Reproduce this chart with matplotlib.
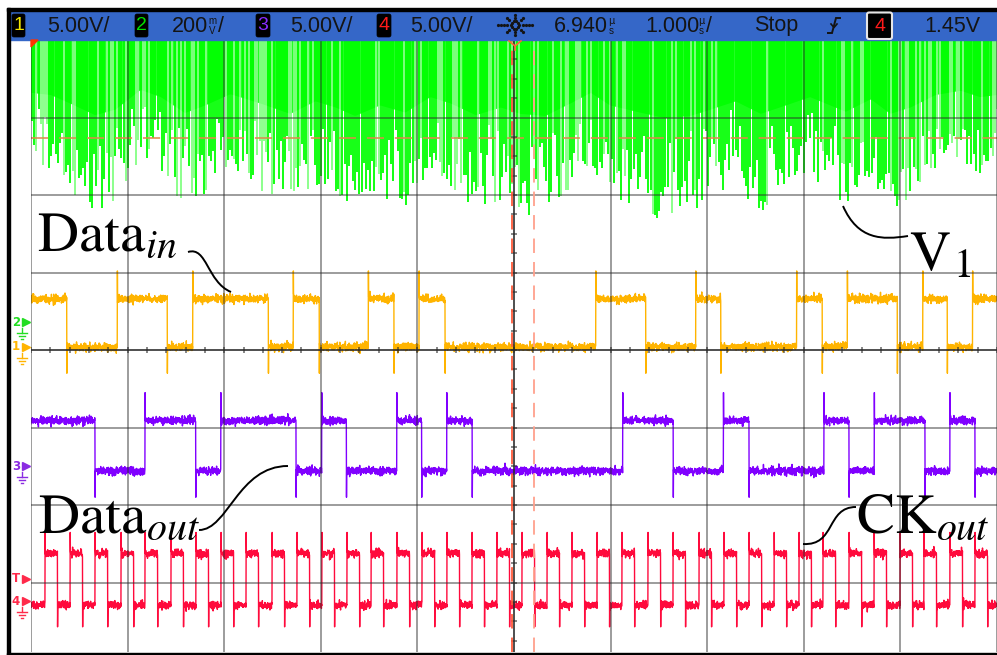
import numpy as np
import matplotlib
matplotlib.use("Agg")
import matplotlib.pyplot as plt
from matplotlib.collections import LineCollection
from matplotlib.patches import Rectangle, Polygon, FancyBboxPatch, PathPatch
from matplotlib.path import Path

plt.rcParams["mathtext.fontset"] = "stix"

# ---------------- acquisition settings ----------------
t_center = 6.940                      # us (horizontal position)
t_div = 1.0                           # us/div
volts_div = {1: 5.0, 2: 0.2, 3: 5.0, 4: 5.0}
offset_div = {1: 0.04, 2: 0.36, 3: -1.50, 4: -3.24}   # ground markers, in divisions
trig_level = 1.45                     # V on channel 4

# ---------------- channel 1 : Data_in (edge times, us) ----------------
din_start_high = True
din_edges = [2.310, 2.833, 3.351, 3.614, 4.397, 4.655, 4.924, 5.432, 5.698, 5.957,
             6.226, 7.786, 8.303, 8.821, 9.080, 9.866, 10.131, 10.390, 10.908,
             11.171, 11.426, 11.688]
din_low, din_high = 0.0, 3.1
din_over, din_under = 1.8, 1.7

# ---------------- channel 3 : Data_out ----------------
dout_start_high = True
dout_edges = [2.603, 3.120, 3.645, 3.904, 4.683, 4.949, 5.206, 5.726, 5.985, 6.243,
              6.508, 8.065, 8.589, 9.107, 9.373, 10.149, 10.408, 10.670, 11.195,
              11.453, 11.712]
dout_low, dout_high = -0.3, 2.95
dout_over, dout_under = 1.8, 1.7

# ---------------- channel 4 : CK_out ----------------
ck_rise = [2.085, 2.344, 2.603, 2.872, 3.120, 3.389, 3.648, 3.907, 4.166, 4.435,
           4.694, 4.952, 5.211, 5.460, 5.729, 5.988, 6.246, 6.505, 6.764, 7.023,
           7.282, 7.540, 7.799, 8.058, 8.327, 8.586, 8.855, 9.114, 9.373, 9.632,
           9.890, 10.139, 10.408, 10.667, 10.936, 11.184, 11.453, 11.712]
ck_fall = [2.215, 2.474, 2.733, 3.002, 3.250, 3.519, 3.778, 4.037, 4.296, 4.565,
           4.824, 5.082, 5.341, 5.590, 5.859, 6.118, 6.376, 6.635, 6.894, 7.153,
           7.412, 7.670, 7.929, 8.188, 8.457, 8.716, 8.985, 9.244, 9.503, 9.762,
           10.020, 10.269, 10.538, 10.797, 11.066, 11.314, 11.583, 11.842]
ck_low, ck_high = -0.26, 3.08
ck_over, ck_under = 1.35, 1.4

# ---------------- channel 2 : V1 (lower envelope, mV) ----------------
v1_env_t = [1.94, 2.14, 2.34, 2.60, 2.81, 3.07, 3.28, 3.53, 3.74, 4.00, 4.31, 4.62,
            4.88, 5.09, 5.29, 5.55, 5.81, 6.07, 6.28, 6.54, 6.80, 7.00, 7.26, 7.52,
            7.73, 7.93, 8.24, 8.50, 8.76, 8.97, 9.23, 9.49, 9.75, 10.00, 10.37,
            10.63, 10.83, 11.04, 11.30, 11.56, 11.76, 11.94]
v1_env_mv = [406, 393, 341, 269, 303, 424, 380, 282, 329, 398, 341, 277,
             354, 316, 264, 329, 285, 380, 341, 269, 316, 277, 264, 341,
             406, 329, 285, 251, 264, 303, 354, 277, 329, 380, 290,
             367, 277, 316, 393, 419, 380, 393]

# cursors
cursor_t = [6.92, 7.15]
cursor_v1_mv = 475

# ---------------- figure geometry ----------------
W, H = 997, 655
gx0, gx1, gy0, gy1 = 31, 997, 40, 652
div_px = 77.5
fig = plt.figure(figsize=(W / 100, H / 100), dpi=100)
fig.patch.set_facecolor("white")

t0 = t_center - 5 * t_div
t1 = t_center + 5 * t_div
ax = fig.add_axes([gx0 / W, (H - gy1) / H, (gx1 - gx0) / W, (gy1 - gy0) / H])
ax.set_xlim(t0, t1)
ax.set_ylim(4 - (gy1 - gy0) / div_px, 4)
ax.set_axis_off()

rng = np.random.default_rng(11)
t = np.linspace(t0, t1, 5200)


def logic_trace(edges, start_high, lo, hi, over, under, sigma):
    edges = np.sort(np.asarray(edges, float))
    n = np.searchsorted(edges, t, side="right")
    state = (n + (1 if start_high else 0)) % 2
    v = np.where(state == 1, hi, lo).astype(float)
    v = v + rng.normal(0, sigma, t.size)
    for e in edges:
        i = np.searchsorted(t, e)
        if i >= t.size:
            continue
        v[i] = hi + over if state[i] == 1 else lo - under
    return v


def to_div(ch, volts):
    return offset_div[ch] + np.asarray(volts) / volts_div[ch]


# V1: dense oscillation, tops clipped above the screen
top_mv = (4 - offset_div[2]) * volts_div[2] * 1000
ts = np.arange(t0 + 0.012, t1, 0.022)
env = np.interp(ts, v1_env_t, v1_env_mv)
frac = 0.45 + 0.55 * np.sqrt(rng.random(ts.size))
bottom = top_mv - (top_mv - env) * frac
yb = to_div(2, bottom / 1000)
# solid core of the trace where every cycle overlaps
tc = np.linspace(t0, t1, 600)
core = to_div(2, (top_mv - (top_mv - np.interp(tc, v1_env_t, v1_env_mv)) * 0.42) / 1000)
ax.fill_between(tc, core, 4.6, color="#22ff22", lw=0, zorder=2)
segs = [[(x, 4.6), (x, y)] for x, y in zip(ts, yb)]
cols = np.where(rng.random(ts.size) < 0.7, "#00ff00", "#84ff84")
ax.add_collection(LineCollection(segs, colors=cols, linewidths=1.3, zorder=2))

# logic channels
v_in = logic_trace(din_edges, din_start_high, din_low, din_high, din_over, din_under, 0.13)
v_out = logic_trace(dout_edges, dout_start_high, dout_low, dout_high, dout_over, dout_under, 0.13)
v_ck = logic_trace(ck_rise + ck_fall, False, ck_low, ck_high, ck_over, ck_under, 0.13)
ax.plot(t, to_div(1, v_in), color="#ffb400", lw=1.0, zorder=3)
ax.plot(t, to_div(3, v_out), color="#8000ff", lw=1.0, zorder=3)
ax.plot(t, to_div(4, v_ck), color="#ff0a3c", lw=1.0, zorder=3)

# graticule
gcol = "#2a2a2a"
for k in range(11):
    ax.axvline(t0 + k * t_div, color=gcol, alpha=0.5, lw=1.3, zorder=6)
for k in range(-3, 5):
    ax.axhline(k, color=gcol, alpha=0.5, lw=1.3, zorder=6)
ax.axvline(t_center, color=gcol, alpha=0.72, lw=1.3, zorder=6)
ax.axhline(0, color=gcol, alpha=0.72, lw=1.3, zorder=6)
hticks = [[(t0 + 0.2 * k, -0.04), (t0 + 0.2 * k, 0.04)] for k in range(51)]
vticks = [[(t_center - 0.032, 0.25 * k), (t_center + 0.032, 0.25 * k)] for k in range(-16, 17)]
ax.add_collection(LineCollection(hticks + vticks, colors=gcol, alpha=0.72, linewidths=1.1, zorder=6))

# cursors
ax.axvline(cursor_t[0], color="#ff5a3a", lw=1.3, ls=(0, (8, 5)), zorder=7)
ax.axvline(cursor_t[1], color="#ffa08c", lw=1.3, ls=(0, (8, 5)), zorder=7)
ax.axhline(to_div(2, cursor_v1_mv / 1000), color="#e0884a", lw=1.3,
           ls=(0, (9.5, 6)), alpha=0.85, zorder=5)

# channel ground / trigger markers on the left edge
trans = ax.get_yaxis_transform()


def ax_x(px):
    return (px - gx0) / (gx1 - gx0)


p = 1 / div_px


def channel_marker(label, y, color, ground=True):
    ax.text(ax_x(16), y, label, transform=trans, color=color, fontsize=8.5,
            fontweight="bold", ha="center", va="center", clip_on=False, family="DejaVu Sans")
    ax.plot([ax_x(26)], [y], marker=">", ms=5.5, color=color, transform=trans, clip_on=False)
    if ground:
        for xa, xb, ya, yb_ in [(22, 22, y - 6 * p, y - 11 * p), (17, 27, y - 11 * p, y - 11 * p),
                                (19, 25, y - 14 * p, y - 14 * p), (21, 23, y - 17 * p, y - 17 * p)]:
            ax.plot([ax_x(xa), ax_x(xb)], [ya, yb_], color=color, lw=1.0,
                    transform=trans, clip_on=False)


channel_marker("2", offset_div[2], "#22dd22")
channel_marker("1", offset_div[1], "#ffb400")
channel_marker("3", offset_div[3], "#8a2be2")
channel_marker("T", to_div(4, trig_level), "#ff2a4a", ground=False)
channel_marker("4", offset_div[4], "#ff2a4a")

# ---------------- overlay: frame, status bar, labels ----------------
ov = fig.add_axes([0, 0, 1, 1], zorder=5)
ov.set_xlim(0, W)
ov.set_ylim(H, 0)
ov.set_axis_off()
ov.patch.set_alpha(0)

ov.add_patch(Rectangle((10, 11), W - 10, 29, color="#3567c8", zorder=1))
ov.add_patch(Rectangle((7, 8), 3, H - 8, color="black", zorder=2))
ov.add_patch(Rectangle((7, 8), W - 7, 3, color="black", zorder=2))
ov.add_patch(Rectangle((7, 652.5), W - 7, 3, color="black", zorder=2))

# markers at the top of the graticule
ov.add_patch(Polygon([(31, 40), (38, 40), (31, 47)], closed=True, color="#ff3300", zorder=3))
ov.plot([509, 515, 521], [41, 46, 41], color="#ff6633", lw=1.2, zorder=3)
ov.plot([515, 515], [46, 50], color="#ff6633", lw=1.2, zorder=3)

bar_y = 26
tkw = dict(fontsize=15.5, color="#141414", va="center", ha="left", family="Liberation Sans")


def ch_box(x, w, digit, color, y=14, h=23, edge=None):
    ov.add_patch(FancyBboxPatch((x, y), w, h, boxstyle="round,pad=0,rounding_size=2",
                                fc="black", ec=edge if edge else "black",
                                lw=1.5 if edge else 0.5, zorder=3))
    ov.text(x + w / 2, y + h / 2 + 0.5, digit, color=color, fontsize=14, ha="center",
            va="center", family="Liberation Sans", zorder=4)


ch_box(12, 13, "1", "#f2e600")
ov.text(47, bar_y, "5.00V/", **tkw)
ch_box(135, 13, "2", "#00e000")
ov.text(172, bar_y, "200", **tkw)
ov.text(212, 21, "m", fontsize=7, color="#141414", ha="center", va="center", family="Liberation Sans")
ov.text(212, 31, "V", fontsize=7, color="#141414", ha="center", va="center", family="Liberation Sans")
ov.text(218, bar_y, "/", **tkw)
ch_box(256, 14, "3", "#8a2cff")
ov.text(290, bar_y, "5.00V/", **tkw)
ch_box(377, 14, "4", "#ff1a1a")
ov.text(410, bar_y, "5.00V/", **tkw)

# acquisition (run) icon
cx, cy = 515, 25
ang = np.linspace(0, 2 * np.pi, 10, endpoint=False)
ov.plot(cx + 4 * np.cos(ang), cy + 4 * np.sin(ang), ls="none", marker="o", ms=1.3, color="#141414")
for a in np.arange(0, 2 * np.pi, np.pi / 4):
    r = [8, 11] if abs(np.sin(a)) > 0.1 else [8, 11, 14, 17]
    ov.plot(cx + np.array(r) * np.cos(a), cy + np.array(r) * np.sin(a) * 0.9, ls="none",
            marker="o", ms=1.3, color="#141414")

ov.text(554, bar_y, "6.940", **tkw)
ov.text(611, 21, "\u00b5", fontsize=7, color="#141414", ha="center", va="center", family="DejaVu Sans")
ov.text(611, 31, "s", fontsize=7, color="#141414", ha="center", va="center", family="Liberation Sans")
ov.text(645, bar_y, "1.000", **tkw)
ov.text(701, 21, "\u00b5", fontsize=7, color="#141414", ha="center", va="center", family="DejaVu Sans")
ov.text(701, 31, "s", fontsize=7, color="#141414", ha="center", va="center", family="Liberation Sans")
ov.text(706, bar_y, "/", **tkw)
ov.text(754, bar_y, "Stop", **tkw)
# falling-edge trigger symbol
ov.plot([840, 836, 832, 828], [18, 18, 33, 33], color="#141414", lw=1.4, solid_joinstyle="miter")
ov.plot([831, 834, 837], [24, 27.5, 24], color="#141414", lw=1.2)
ch_box(867, 25, "4", "#ff1a1a", y=12.5, h=26.5, edge="#e6e6e6")
ov.text(924, bar_y, "1.45V", **tkw)

# annotation labels
lkw = dict(fontsize=41, color="black", ha="left", va="baseline")
ov.text(37, 251, r"$\mathrm{Data}_{\mathit{in}}$", **lkw)
ov.text(909, 270, r"$\mathrm{V}$", **lkw)
ov.text(953, 277, r"$\mathrm{1}$", fontsize=29, color="black", ha="left", va="baseline")
ov.text(38, 533, r"$\mathrm{Data}_{\mathit{out}}$", **lkw)
ov.text(856, 533, r"$\mathrm{CK}_{\mathit{out}}$", **lkw)


def leader(p0, p1, p2, p3):
    path = Path([p0, p1, p2, p3], [Path.MOVETO, Path.CURVE4, Path.CURVE4, Path.CURVE4])
    ov.add_patch(PathPatch(path, fc="none", ec="black", lw=1.4, zorder=6))


leader((188, 252), (207, 246), (207, 282), (231, 292))
leader((843, 206), (858, 240), (882, 240), (908, 236))
leader((199, 530), (228, 530), (238, 466), (288, 466))
leader((803, 544), (836, 546), (826, 507), (856, 507))

fig.savefig("out.png", dpi=100)
